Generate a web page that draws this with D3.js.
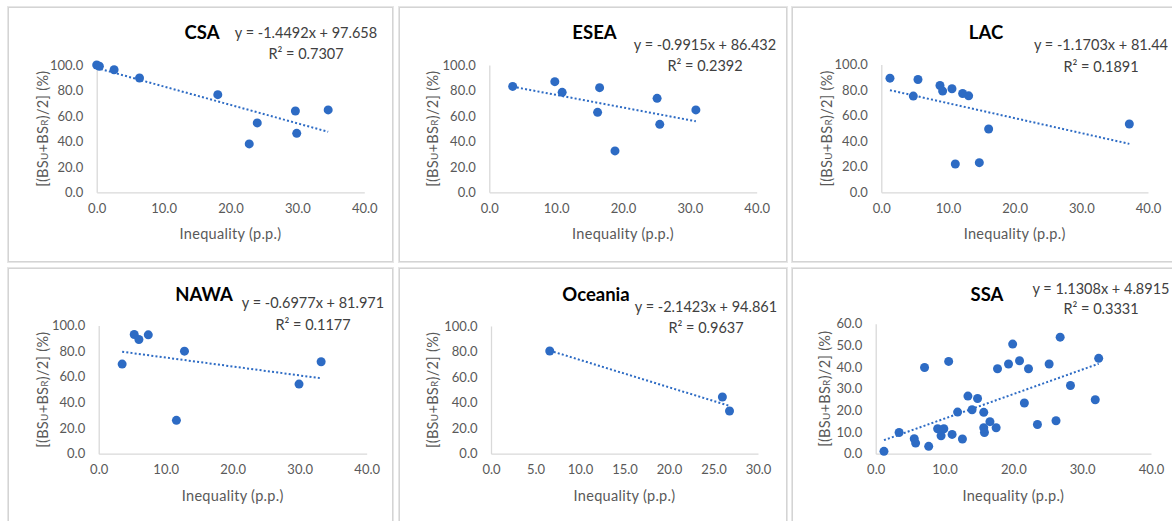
<!DOCTYPE html>
<html>
<head>
<meta charset="utf-8">
<script src="https://cdn.jsdelivr.net/npm/d3@7"></script>
<style>
  html, body { margin: 0; padding: 0; background: #ffffff; }
  svg { display: block; font-family: Lato, "Open Sans", sans-serif; }
</style>
</head>
<body>
<svg id="chart" width="1172" height="521"></svg>
<script>
// ---------- DATA ----------
const regions = ["CSA", "ESEA", "LAC", "NAWA", "Oceania", "SSA"];

const csaX = [0.0, 0.4, 2.6, 6.4, 18.1, 22.8, 24.0, 29.7, 29.9, 34.6];
const csaY = [100.0, 99.0, 96.3, 89.8, 76.7, 38.0, 54.5, 63.9, 46.3, 64.7];

const eseaX = [3.5, 9.8, 10.9, 16.5, 16.2, 18.8, 25.1, 25.5, 30.9];
const eseaY = [83.2, 86.9, 78.5, 82.2, 62.8, 32.5, 73.8, 53.4, 64.7];

const lacX = [1.3, 5.5, 4.8, 8.8, 9.2, 10.6, 12.2, 13.1, 11.1, 14.7, 16.1, 37.2];
const lacY = [89.3, 88.3, 75.3, 83.6, 79.2, 81.0, 77.3, 75.5, 22.1, 23.2, 49.5, 53.4];

const nawaX = [3.5, 5.3, 6.0, 7.4, 12.8, 11.6, 29.9, 33.2];
const nawaY = [69.9, 93.0, 89.1, 92.7, 80.0, 26.0, 54.3, 71.7];

const oceaniaX = [6.6, 26.0, 26.8];
const oceaniaY = [80.4, 44.4, 33.4];

const ssaX = [1.2, 3.4, 5.6, 5.8, 7.7, 7.1, 9.0, 9.9, 9.5, 11.1, 10.6, 11.9, 12.6, 13.4, 14.0, 14.8, 15.7,
              15.7, 15.8, 16.6, 17.5, 17.7, 19.3, 19.9, 20.9, 21.6, 22.2, 23.5, 25.2, 26.2, 26.8, 28.3, 31.9, 32.4];
const ssaY = [1.1, 9.8, 6.9, 4.9, 3.4, 39.8, 11.5, 11.5, 8.3, 8.9, 42.6, 19.2, 6.8, 26.6, 20.3, 25.5, 19.1,
              12.0, 9.8, 14.8, 12.0, 39.2, 41.4, 50.6, 42.9, 23.4, 39.2, 13.5, 41.4, 15.2, 53.8, 31.5, 24.9, 44.0];

const seriesX = [csaX, eseaX, lacX, nawaX, oceaniaX, ssaX];
const seriesY = [csaY, eseaY, lacY, nawaY, oceaniaY, ssaY];

const slopes = [-1.4492, -0.9915, -1.1703, -0.6977, -2.1423, 1.1308];
const intercepts = [97.658, 86.432, 81.44, 81.971, 94.861, 4.8915];
const equations = ["y = -1.4492x + 97.658", "y = -0.9915x + 86.432", "y = -1.1703x + 81.44",
                   "y = -0.6977x + 81.971", "y = -2.1423x + 94.861", "y = 1.1308x + 4.8915"];
const r2Values = ["0.7307", "0.2392", "0.1891", "0.1177", "0.9637", "0.3331"];

const xTickValues = [[0, 10, 20, 30, 40], [0, 10, 20, 30, 40], [0, 10, 20, 30, 40],
                     [0, 10, 20, 30, 40], [0, 5, 10, 15, 20, 25, 30], [0, 10, 20, 30, 40]];
const yTickValues = [[0, 20, 40, 60, 80, 100], [0, 20, 40, 60, 80, 100], [0, 20, 40, 60, 80, 100],
                     [0, 20, 40, 60, 80, 100], [0, 20, 40, 60, 80, 100], [0, 10, 20, 30, 40, 50, 60]];

const xAxisTitle = "Inequality (p.p.)";

// ---------- LAYOUT ----------
const frames = [
  {x: 8, y: 7, w: 386, h: 256}, {x: 399, y: 7, w: 389, h: 256}, {x: 792, y: 7, w: 400, h: 256},
  {x: 8, y: 268, w: 386, h: 270}, {x: 399, y: 268, w: 389, h: 270}, {x: 792, y: 268, w: 400, h: 270}
];
const plots = [
  {x0: 96.7, x1: 364.3, y0: 192.3, y1: 65},
  {x0: 489.3, x1: 756.7, y0: 192.3, y1: 65},
  {x0: 881.3, x1: 1148, y0: 192.3, y1: 64.5},
  {x0: 98.7, x1: 366.7, y0: 453.7, y1: 325.5},
  {x0: 491, x1: 758, y0: 453.7, y1: 326},
  {x0: 875.7, x1: 1151, y0: 453.7, y1: 323.7}
];
const titlePos = [[202, 33], [594.5, 33], [986, 33], [204, 295], [596, 295], [987, 295]];
const eqPos = [[306, 33, 54], [705, 45, 66], [1101, 45, 67], [313, 303, 325], [706, 307, 328], [1101, 289, 309]];
const yTitleX = [43, 433, 827, 43, 433, 825];

const blue = "#2d6bc4";
const gray = "#d9d9d9";
const textGray = "#595959";

const svg = d3.select("#chart");
const fmt = d3.format(".1f");

regions.forEach((name, i) => {
  const f = frames[i], p = plots[i];
  // panel frame
  svg.append("rect").attr("x", f.x - 0.5).attr("y", f.y - 0.5).attr("width", f.w).attr("height", f.h)
    .attr("fill", "#ffffff").attr("stroke", "#e6e6e6").attr("stroke-width", 1);
  svg.append("rect").attr("x", f.x + 0.5).attr("y", f.y + 0.5).attr("width", f.w - 2).attr("height", f.h - 2)
    .attr("fill", "none").attr("stroke", "#d4d4d4").attr("stroke-width", 1);

  const xt = xTickValues[i], yt = yTickValues[i];
  const x = d3.scaleLinear().domain([xt[0], xt[xt.length - 1]]).range([p.x0, p.x1]);
  const y = d3.scaleLinear().domain([yt[0], yt[yt.length - 1]]).range([p.y0, p.y1]);

  const g = svg.append("g");

  // axes
  const xAxis = g.append("g").attr("transform", `translate(0,${p.y0})`)
    .call(d3.axisBottom(x).tickValues(xt).tickFormat(fmt).tickSize(0).tickPadding(12));
  const yAxis = g.append("g").attr("transform", `translate(${p.x0},0)`)
    .call(d3.axisLeft(y).tickValues(yt).tickFormat(fmt).tickSize(0).tickPadding(13.5));
  [xAxis, yAxis].forEach(a => {
    a.select(".domain").attr("stroke", gray).attr("stroke-width", 1.3);
    a.selectAll("text").attr("fill", textGray).attr("font-size", "13px")
      .attr("font-family", "Lato, 'Open Sans', sans-serif");
  });
  xAxis.selectAll("text").attr("dy", "0.65em");

  // axis titles
  g.append("text").attr("x", (p.x0 + p.x1) / 2).attr("y", p.y0 + 47)
    .attr("text-anchor", "middle").attr("fill", textGray).attr("font-size", "14.5px")
    .attr("letter-spacing", "0.3px")
    .text(xAxisTitle);

  const yt_ = g.append("text")
    .attr("transform", `translate(${yTitleX[i] + 5},${(p.y0 + p.y1) / 2}) rotate(-90)`)
    .attr("text-anchor", "middle").attr("fill", textGray).attr("font-size", "14.5px")
    .attr("letter-spacing", "0.3px");
  yt_.append("tspan").text("[(BS");
  yt_.append("tspan").attr("font-size", "10px").text("U");
  yt_.append("tspan").text("+BS");
  yt_.append("tspan").attr("font-size", "10px").text("R");
  yt_.append("tspan").text(")/2] (%)");

  // trendline
  const xs = seriesX[i];
  const ext = d3.extent(xs);
  const tl = ext.map(v => [v, slopes[i] * v + intercepts[i]]);
  g.append("path")
    .attr("d", d3.line().x(d => x(d[0])).y(d => y(d[1]))(tl))
    .attr("fill", "none").attr("stroke", blue).attr("stroke-width", 2)
    .attr("stroke-dasharray", "2,2.2");

  // points
  g.selectAll("circle.pt").data(xs.map((v, k) => [v, seriesY[i][k]])).enter()
    .append("circle").attr("class", "pt")
    .attr("cx", d => x(d[0])).attr("cy", d => y(d[1])).attr("r", 4.5)
    .attr("fill", blue);

  // title
  g.append("text").attr("x", titlePos[i][0]).attr("y", titlePos[i][1]).attr("dy", "0.35em")
    .attr("text-anchor", "middle").attr("font-weight", "bold").attr("font-size", "18.5px")
    .attr("fill", "#000000").text(name);

  // equation + R²
  g.append("text").attr("x", eqPos[i][0]).attr("y", eqPos[i][1]).attr("dy", "0.35em")
    .attr("text-anchor", "middle").attr("font-size", "14.5px").attr("fill", "#404040")
    .text(equations[i]);
  g.append("text").attr("x", eqPos[i][0]).attr("y", eqPos[i][2]).attr("dy", "0.35em")
    .attr("text-anchor", "middle").attr("font-size", "14.5px").attr("fill", "#404040")
    .text("R² = " + r2Values[i]);
});
</script>
</body>
</html>
